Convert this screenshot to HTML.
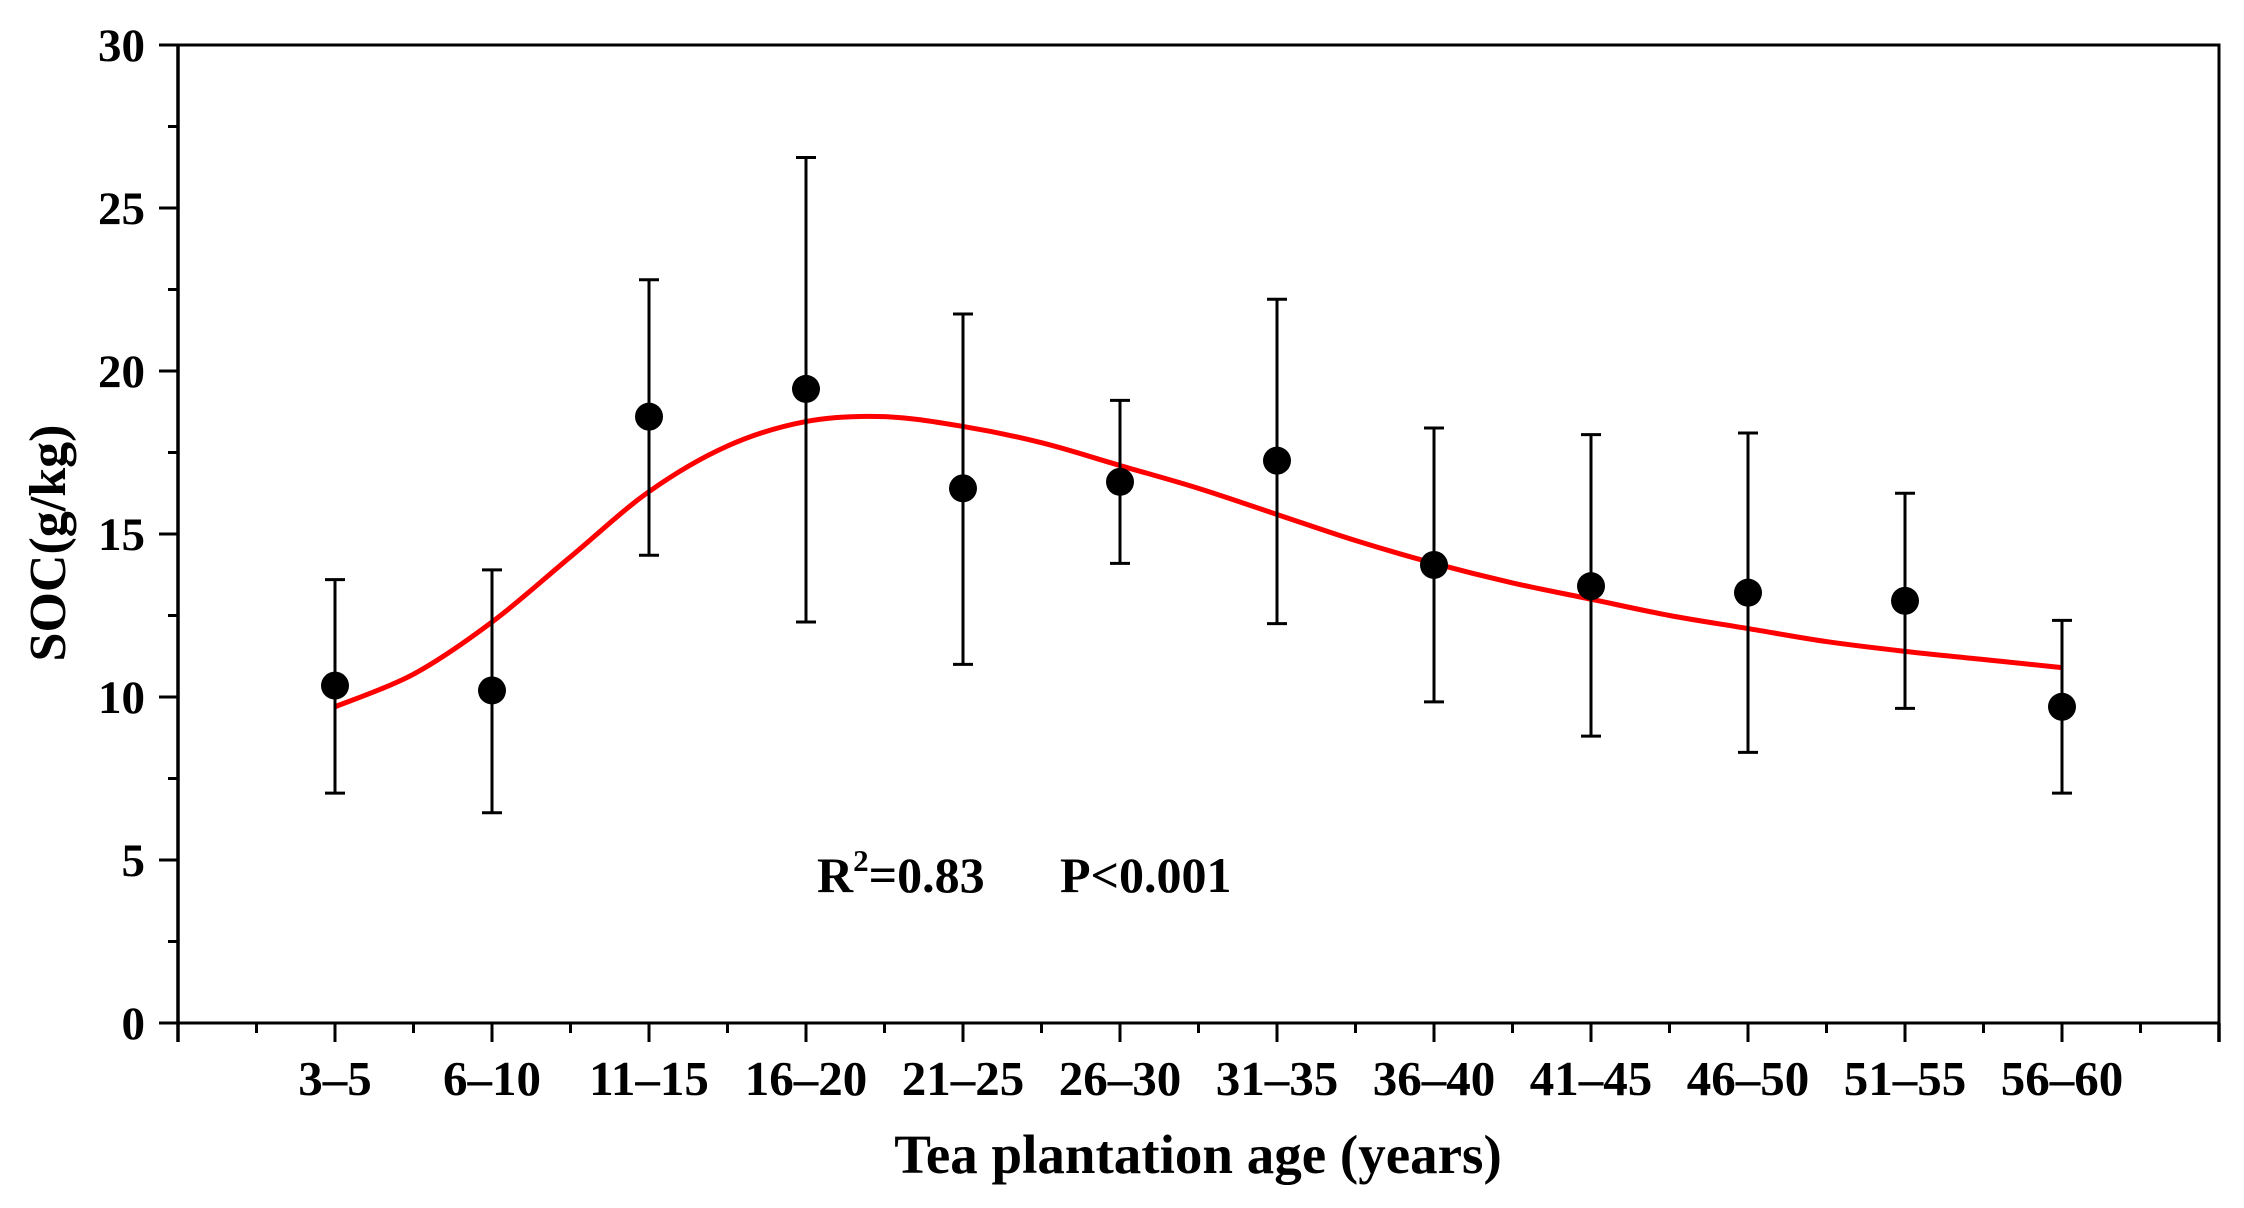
<!DOCTYPE html>
<html><head><meta charset="utf-8"><style>
html,body{margin:0;padding:0;background:#fff;}
svg{display:block;}
text{font-family:"Liberation Serif",serif;font-weight:bold;fill:#000;}
</style></head><body>
<svg id="chart" width="2244" height="1208" viewBox="0 0 2244 1208">
<rect x="0" y="0" width="2244" height="1208" fill="#fff"/>
<g id="axes"></g>
<g id="fit"></g>
<g id="points"></g>
<text x="817" y="892" font-size="50">R<tspan dy="-21" font-size="31">2</tspan><tspan dy="21">=0.83</tspan></text>
<text x="1060" y="892" font-size="50">P&lt;0.001</text>
<text x="1198" y="1173" font-size="55" text-anchor="middle">Tea plantation age (years)</text>
<text x="0" y="0" font-size="52" text-anchor="middle" transform="translate(65,543) rotate(-90)">SOC(g/kg)</text>
</svg>
<script>
const categories = ["3–5","6–10","11–15","16–20","21–25","26–30","31–35","36–40","41–45","46–50","51–55","56–60"];
const means = [10.35,10.2,18.6,19.45,16.4,16.6,17.25,14.05,13.4,13.2,12.95,9.7];
const upper = [13.6,13.9,22.8,26.55,21.75,19.1,22.2,18.25,18.05,18.1,16.25,12.35];
const lower = [7.05,6.45,14.35,12.3,11.0,14.1,12.25,9.85,8.8,8.3,9.65,7.05];
const fitX = [0,0.5,1,1.5,2,2.5,3,3.5,4,4.5,5,5.5,6,6.5,7,7.5,8,8.5,9,9.5,10,10.5,11];
const fitY = [9.7,10.7,12.3,14.3,16.3,17.7,18.45,18.6,18.3,17.8,17.1,16.4,15.6,14.8,14.1,13.5,13.0,12.5,12.1,11.7,11.4,11.15,10.9];
const yTicks = [0,5,10,15,20,25,30];

const NS="http://www.w3.org/2000/svg";
const X0=178, X1=2219, Y0=1023, Y1=45;
function xs(i){return X0+(i+1)*(X1-X0)/13;}
function ys(v){return Y0-(v/30)*(Y0-Y1);}
function mk(tag,attrs,parent){const e=document.createElementNS(NS,tag);for(const k in attrs)e.setAttribute(k,attrs[k]);parent.appendChild(e);return e;}
const axes=document.getElementById('axes');
let e;
e=mk('path',{d:`M${X0},${Y1} L${X1},${Y1} L${X1},${Y0} L${X0},${Y0} Z`,fill:'none',stroke:'#000','stroke-width':3},axes);


e=mk('line',{x1:X0,y1:Y1,x2:X0,y2:1042,stroke:'#000','stroke-width':3.5},axes);


e=mk('line',{x1:X1,y1:Y0,x2:X1,y2:1042,stroke:'#000','stroke-width':3.5},axes);


for(let v=0;v<=30;v+=2.5){
  const major = v%5===0;
  e=mk('line',{x1:major?159:168,y1:ys(v),x2:X0,y2:ys(v),stroke:'#000','stroke-width':3},axes);
  
  
}
yTicks.forEach(v=>{
  e=mk('text',{x:145,y:ys(v)+16,'font-size':47,'text-anchor':'end'},axes);
  e.textContent=v;
  
  
});
for(let k=-0.5;k<=11.5;k+=0.5){
  const major=Number.isInteger(k);
  e=mk('line',{x1:xs(k),y1:Y0,x2:xs(k),y2:major?1042:1033,stroke:'#000','stroke-width':3},axes);
  
  
}
categories.forEach((c,i)=>{
  e=mk('text',{x:xs(i),y:1095,'font-size':49,'text-anchor':'middle'},axes);
  e.textContent=c;
  
  
});
const P=fitX.map((x,i)=>[xs(x),ys(fitY[i])]);
let d=`M${P[0][0]},${P[0][1]}`;
for(let i=0;i<P.length-1;i++){
  const p0=P[i-1]||P[i],p1=P[i],p2=P[i+1],p3=P[i+2]||P[i+1];
  const c1=[p1[0]+(p2[0]-p0[0])/6,p1[1]+(p2[1]-p0[1])/6];
  const c2=[p2[0]-(p3[0]-p1[0])/6,p2[1]-(p3[1]-p1[1])/6];
  d+=` C${c1[0]},${c1[1]} ${c2[0]},${c2[1]} ${p2[0]},${p2[1]}`;
}
e=mk('path',{d:d,fill:'none',stroke:'#f00','stroke-width':5},document.getElementById('fit'));


const pg=document.getElementById('points');
categories.forEach((c,i)=>{
  const x=xs(i);
  e=mk('path',{d:`M${x},${ys(upper[i])} L${x},${ys(lower[i])} M${x-10},${ys(upper[i])} L${x+10},${ys(upper[i])} M${x-10},${ys(lower[i])} L${x+10},${ys(lower[i])}`,stroke:'#000','stroke-width':3,fill:'none'},pg);
  
  
  e=mk('circle',{cx:x,cy:ys(means[i]),r:14,fill:'#000'},pg);
  
  
});
</script>
</body></html>
